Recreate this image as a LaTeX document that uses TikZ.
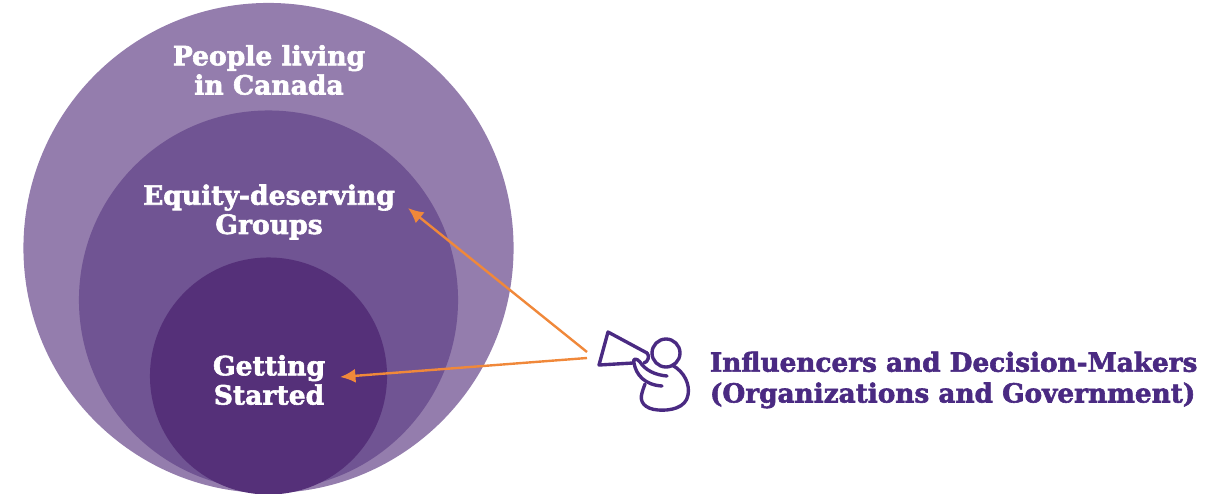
\documentclass[tikz,border=0pt]{standalone}
\usepackage{fontspec}
\setmainfont{DejaVu Serif}[BoldFeatures={FakeBold=2.2}]
\definecolor{outerpurple}{HTML}{947DAD}
\definecolor{middlepurple}{HTML}{705493}
\definecolor{innerpurple}{HTML}{553079}
\definecolor{darkpurple}{HTML}{4A2A82}
\definecolor{arroworange}{HTML}{F0883A}
\usetikzlibrary{arrows.meta}

\begin{document}
\begin{tikzpicture}[x=0.025cm, y=-0.025cm]
	\tikzstyle{circ} = [circle, inner sep=0pt, draw=none]
	\tikzstyle{inlabel} = [text=white, align=center, font=\bfseries\fontsize{18.9}{20.8}\selectfont]
	\tikzstyle{outlabel} = [text=darkpurple, align=left, anchor=west, font=\bfseries\fontsize{18.7}{21.9}\selectfont]
	\tikzstyle{pointer} = [-{Latex[length=11pt, width=10pt]}, arroworange, line width=1.7pt]
	\tikzstyle{icon} = [darkpurple, line width=2.4pt, line cap=round, line join=round]
	\useasboundingbox (0,0) rectangle (1209,493);
	\clip (0,0) rectangle (1209,493);
	\node [circ, fill=outerpurple, minimum size=12.25cm] (C0) at (268.5, 248) {};
	\node [circ, fill=middlepurple, minimum size=9.475cm] (C1) at (268.5, 300) {};
	\node [circ, fill=innerpurple, minimum size=5.925cm] (C2) at (268.5, 376) {};
	\node [inlabel] (L0) at (269, 70) {People living\\in Canada};
	\node [inlabel] (L1) at (269, 212) {Equity-deserving\\Groups};
	\node [inlabel] (L2) at (269, 380) {Getting\\Started};
	\node [outlabel] (L3) at (705, 380) {Influencers and Decision-Makers\\(Organizations and Government)};
	\coordinate (A0) at (587, 352);
	\coordinate (A1) at (587, 358);
	\coordinate (T1) at (408, 208);
	\coordinate (T2) at (340, 377);
	\draw [pointer] (A0)--(T1);
	\draw [pointer] (A1)--(T2);
	% megaphone and person
	\draw [icon] (647,353)--(608,332)--(599,365)--(633,363);
	\draw [icon] (647,353) .. controls (650,356) and (648,362) .. (644,363);
	\node [circ, draw=darkpurple, line width=2.4pt, minimum size=0.7cm] (H0) at (666, 353) {};
	\draw [icon] (667,376) .. controls (655,375) and (645,370) .. (640,362) .. controls (637,358) and (632,358) .. (634,363) .. controls (636,375) and (645,385) .. (662,386);
	\draw [icon] (672,365) .. controls (685,372) and (690,385) .. (688,395) .. controls (686,408) and (670,411) .. (658,410) .. controls (645,409) and (639,402) .. (642,393) .. controls (643,389) and (644,387) .. (645,384);
\end{tikzpicture}
\end{document}
